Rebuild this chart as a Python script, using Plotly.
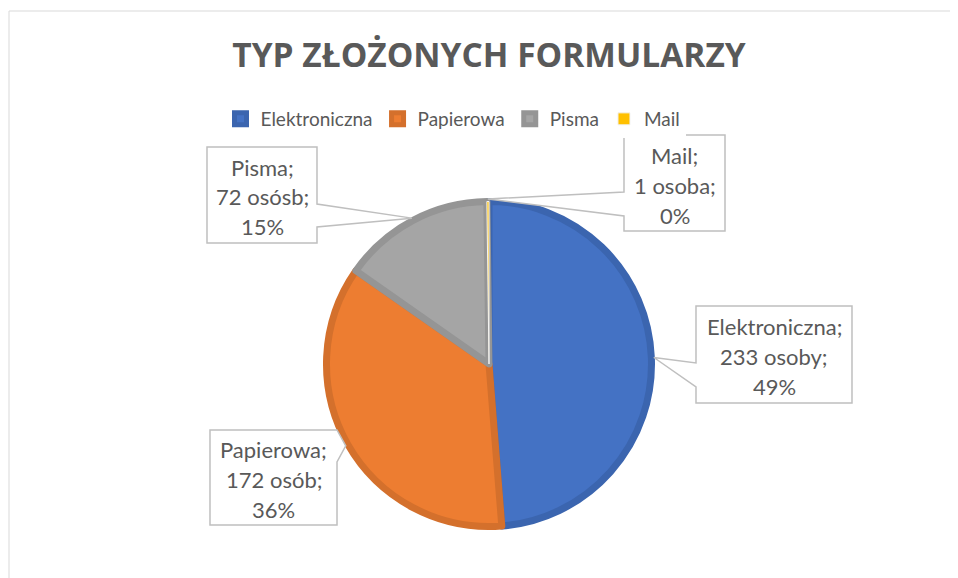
import math
import plotly.graph_objects as go

# ---------------- data ----------------
categories = ["Elektroniczna", "Papierowa", "Pisma", "Mail"]
values = [233, 172, 72, 1]
unit_words = ["osoby", "osób", "osósb", "osoba"]
fill_colors = ["#4472C4", "#ED7D31", "#A5A5A5", "#FFC000"]
edge_colors = ["#3B65AF", "#D4702C", "#959595", "#F2F2F2"]
edge_widths = [7, 7, 7, 1]
title_text = "TYP ZŁOŻONYCH FORMULARZY"

# ---------------- layout constants (screen pixels) ----------------
OFF = 8                      # page body margin
W, H = 950, 570              # figure size
CX, CY, R = 489, 364, 162.5  # pie centre / radius (screen px)
LINE_W = 7
TEXT_COLOR = "#595959"
BOX_COLOR = "#BFBFBF"
LABEL_FONT = "Lato, Carlito, Calibri, sans-serif"
LABEL_SIZE = 22
LINE_GAP = 30
LEGEND_CX = 453

# callout boxes: (x0, y0, x1, y1, side, base_a, base_b)
boxes = {
    "Elektroniczna": (696, 306, 852, 403, "left", 363, 387),
    "Papierowa": (210, 430, 337, 525, "right", 430, 462),
    "Pisma": (207, 147, 317, 243, "right", 204, 227),
    "Mail": (624, 135, 725, 231, "left", 192, 216),
}


def px(x):
    return (x - OFF) / W


def py(y):
    return 1 - (y - OFF) / H


def P(x, y):
    return f"{px(x):.5f},{py(y):.5f}"


total = sum(values)

fig = go.Figure()
fig.add_trace(go.Pie(
    labels=categories,
    values=values,
    sort=False,
    direction="clockwise",
    rotation=0,
    marker=dict(colors=fill_colors, line=dict(color=edge_colors, width=edge_widths)),
    textinfo="none",
    hoverinfo="label+value+percent",
    domain=dict(x=[px(CX - R), px(CX + R)], y=[py(CY + R), py(CY - R)]),
))

shapes = []
annotations = []

# chart-area frame (cropped at the right and bottom)
shapes.append(dict(type="rect", xref="paper", yref="paper",
                   x0=px(9), y0=py(11), x1=1.05, y1=-0.05,
                   line=dict(color="#D9D9D9", width=1), fillcolor="rgba(0,0,0,0)",
                   layer="below"))

cum = 0
for cat, val, unit in zip(categories, values, unit_words):
    mid = (cum + val / 2) / total * 2 * math.pi
    cum += val
    tip_r = R + LINE_W / 2 - 1
    tx = CX + tip_r * math.sin(mid)
    ty = CY - tip_r * math.cos(mid)
    x0, y0, x1, y1, side, ba, bb = boxes[cat]
    if side == "left":
        path = (f"M{P(x0, y0)} L{P(x1, y0)} L{P(x1, y1)} L{P(x0, y1)} "
                f"L{P(x0, bb)} L{P(tx, ty)} L{P(x0, ba)} Z")
    else:
        path = (f"M{P(x0, y0)} L{P(x1, y0)} L{P(x1, ba)} L{P(tx, ty)} "
                f"L{P(x1, bb)} L{P(x1, y1)} L{P(x0, y1)} Z")
    shapes.append(dict(type="path", xref="paper", yref="paper", path=path,
                       line=dict(color=BOX_COLOR, width=1.5), fillcolor="white",
                       layer="above"))
    pct = round(val / total * 100)
    lines = [f"{cat};", f"{val} {unit};", f"{pct}%"]
    ccx = (x0 + x1) / 2
    ccy = (y0 + y1) / 2 + 2
    for i, t in enumerate(lines):
        annotations.append(dict(
            xref="paper", yref="paper", x=px(ccx), y=py(ccy + (i - 1) * LINE_GAP),
            xanchor="center", yanchor="middle", showarrow=False, text=t,
            font=dict(family=LABEL_FONT, size=LABEL_SIZE, color=TEXT_COLOR)))

fig.update_layout(
    width=W, height=H,
    margin=dict(l=0, r=0, t=0, b=0),
    paper_bgcolor="white",
    plot_bgcolor="white",
    title=dict(text=f"<b>{title_text}</b>", x=px(CX), xanchor="center",
               y=py(55), yanchor="middle",
               font=dict(family="Open Sans, sans-serif", size=33.5, color=TEXT_COLOR)),
    legend=dict(orientation="h", x=px(LEGEND_CX), xanchor="center", y=py(119), yanchor="middle",
                font=dict(family=LABEL_FONT, size=19, color=TEXT_COLOR),
                itemclick=False, traceorder="normal"),
    shapes=shapes,
    annotations=annotations,
    showlegend=True,
)

fig.write_html("out.html")
